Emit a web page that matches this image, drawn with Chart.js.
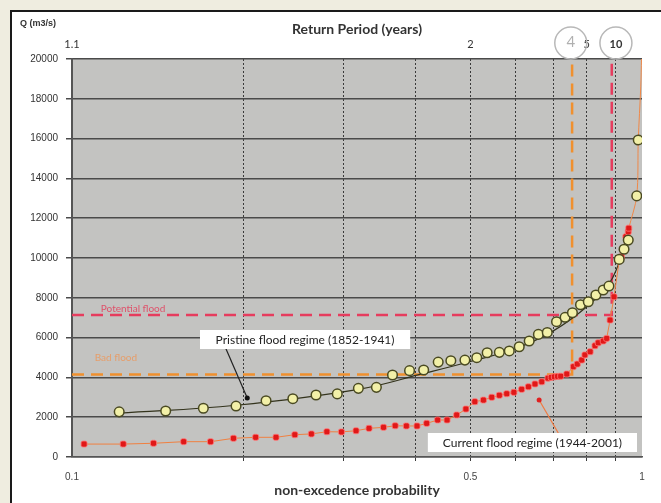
<!DOCTYPE html>
<html>
<head>
<meta charset="utf-8">
<script src="https://cdn.jsdelivr.net/npm/chart.js@4"></script>
<style>
  html, body { margin: 0; padding: 0; background: #efede0; overflow: hidden; }
  #panel { position: absolute; left: 10px; top: 10px; width: 700px; height: 600px; background: #fff;
           border-left: 2px solid #1a1a1a; border-top: 2px solid #1a1a1a; }
  #chart { position: absolute; left: 0; top: 0; }
</style>
</head>
<body>
<div id="panel"></div>
<canvas id="chart" width="661" height="503"></canvas>
<script>
// non-exceedance probability (x) and discharge Q in m3/s (y)
const pristineProb = [0.121, 0.146, 0.170, 0.194, 0.219, 0.244, 0.268, 0.292, 0.318, 0.342,
  0.365, 0.391, 0.414, 0.439, 0.462, 0.489, 0.513, 0.535, 0.562, 0.585,
  0.609, 0.634, 0.658, 0.682, 0.708, 0.733, 0.755, 0.780, 0.805, 0.830,
  0.855, 0.875, 0.912, 0.930, 0.946, 0.979, 0.985];
const pristineQ = [2270, 2310, 2450, 2560, 2830, 2930, 3115, 3170, 3450, 3500,
  4120, 4340, 4370, 4770, 4840, 4870, 4990, 5240, 5260, 5330,
  5540, 5830, 6160, 6260, 6800, 7020, 7250, 7650, 7800, 8140,
  8390, 8590, 9930, 10440, 10900, 13120, 15930];

const currentProb = [0.105, 0.123, 0.139, 0.157, 0.175, 0.192, 0.210, 0.228, 0.246, 0.263,
  0.280, 0.297, 0.315, 0.332, 0.352, 0.369, 0.386, 0.403, 0.419, 0.438,
  0.455, 0.473, 0.491, 0.509, 0.527, 0.545, 0.562, 0.579, 0.596, 0.615,
  0.632, 0.649, 0.667, 0.684, 0.693, 0.702, 0.711, 0.720, 0.738, 0.758,
  0.770, 0.784, 0.794, 0.811, 0.827, 0.838, 0.855, 0.867, 0.879, 0.893,
  0.912, 0.920, 0.937, 0.946, 0.948];
const currentQ = [650, 650, 690, 770, 770, 940, 990, 990, 1120, 1160,
  1270, 1260, 1320, 1440, 1490, 1570, 1560, 1560, 1690, 1860,
  1860, 2110, 2410, 2780, 2860, 3000, 3100, 3180, 3250, 3400,
  3530, 3670, 3780, 3960, 4000, 4030, 4050, 4060, 4170, 4540,
  4670, 4870, 5130, 5290, 5590, 5740, 5830, 5960, 6880, 8050,
  9860, 10060, 11070, 11320, 11500];

// fitted curves
const pristineFitProb = [0.121, 0.194, 0.318, 0.414, 0.5, 0.6, 0.7, 0.8, 0.875, 0.912, 0.93];
const pristineFitQ = [2200, 2600, 3400, 4200, 4800, 5450, 6350, 7550, 8700, 9750, 10300];
const tailFitProb = [0.948, 0.979, 0.985, 0.995, 0.998];
const tailFitQ = [11500, 13120, 15930, 18600, 20000];

// flood thresholds and their return-period markers
const potentialFloodQ = 7135;
const potentialFloodProb = 0.885;
const badFloodQ = 4150;
const badFloodProb = 0.754;

// axis ticks
const probTicks = [0.1, 0.2, 0.3, 0.4, 0.5, 0.6, 0.7, 0.8, 0.9, 1];
const probLabels = ['0.1', '', '', '', '0.5', '', '', '', '', '1'];
const returnProbs = [0.1, 0.5, 0.75, 0.8, 0.9];
const returnLabels = ['1.1', '2', '4', '5', '10'];

const zip = (xs, ys) => xs.map((x, i) => ({ x: x, y: ys[i] }));

const decor = {
  id: 'decor',
  beforeDraw(chart) {
    const { ctx, chartArea: a } = chart;
    ctx.save();
    ctx.fillStyle = '#c3c3c1';
    ctx.fillRect(a.left, a.top, a.right - a.left, a.bottom - a.top);
    ctx.restore();
  },
  afterDatasetsDraw(chart) {
    const { ctx } = chart;
    const sx = chart.scales.x, sy = chart.scales.y;
    const px = (v) => sx.getPixelForValue(v);
    const py = (v) => sy.getPixelForValue(v);
    ctx.save();
    ctx.font = '10px Lato, sans-serif';
    ctx.textAlign = 'center';
    ctx.textBaseline = 'middle';
    ctx.fillStyle = 'rgba(228, 60, 90, 0.85)';
    ctx.fillText('Potential flood', px(0.128), py(7440));
    ctx.fillStyle = 'rgba(236, 150, 90, 0.85)';
    ctx.fillText('Bad flood', px(0.1194), py(4975));

    // arrows
    ctx.lineWidth = 1.2;
    ctx.strokeStyle = '#222';
    ctx.beginPath();
    ctx.moveTo(px(0.186), py(5480));
    ctx.lineTo(px(0.203), py(2960));
    ctx.stroke();
    ctx.fillStyle = '#111';
    ctx.beginPath();
    ctx.arc(px(0.203), py(2960), 2.5, 0, Math.PI * 2);
    ctx.fill();

    ctx.strokeStyle = '#f07a40';
    ctx.beginPath();
    ctx.moveTo(px(0.713), py(1206));
    ctx.lineTo(px(0.660), py(2864));
    ctx.stroke();
    ctx.fillStyle = '#e02020';
    ctx.beginPath();
    ctx.arc(px(0.660), py(2864), 2.5, 0, Math.PI * 2);
    ctx.fill();

    // label boxes
    ctx.font = '12px Lato, sans-serif';
    const box = (x0, x1, yTop, yBot, text) => {
      const l = px(x0), r = px(x1), t = py(yTop), b = py(yBot);
      ctx.fillStyle = '#ffffff';
      ctx.fillRect(l, t, r - l, b - t);
      ctx.fillStyle = '#222';
      ctx.fillText(text, (l + r) / 2, (t + b) / 2 + 1);
    };
    box(0.1677, 0.392, 6382, 5427, 'Pristine flood regime (1852-1941)');
    box(0.421, 0.980, 1206, 251, 'Current flood regime (1944-2001)');
    ctx.restore();
  },
  afterDraw(chart) {
    const { ctx } = chart;
    const top = chart.scales.x2;
    ctx.save();
    ctx.lineWidth = 1.5;
    ctx.strokeStyle = '#b8b8b8';
    [0.75, 0.9].forEach((p) => {
      ctx.beginPath();
      ctx.arc(top.getPixelForValue(p), 43, 16, 0, Math.PI * 2);
      ctx.stroke();
    });
    ctx.fillStyle = '#333';
    ctx.font = 'bold 9px "Liberation Sans", Arial, sans-serif';
    ctx.textAlign = 'left';
    ctx.textBaseline = 'middle';
    ctx.fillText('Q (m3/s)', 20, 24);
    ctx.restore();
  }
};

new Chart(document.getElementById('chart'), {
  type: 'scatter',
  data: {
    datasets: [
      {
        label: 'Pristine flood regime (1852-1941)',
        data: zip(pristineProb, pristineQ),
        showLine: false,
        pointRadius: 4.8,
        pointBackgroundColor: '#f2f0a8',
        pointBorderColor: '#4a4a22',
        pointBorderWidth: 1.5,
        order: 1,
      },
      {
        label: 'Current flood regime (1944-2001)',
        data: zip(currentProb, currentQ),
        showLine: true,
        borderColor: '#f08040',
        borderWidth: 1,
        pointStyle: 'rectRounded',
        pointRadius: 3.5,
        pointBackgroundColor: '#e01818',
        pointBorderColor: 'rgba(255, 120, 120, 0.8)',
        pointBorderWidth: 1,
        order: 2,
      },
      {
        label: 'Pristine fit',
        data: zip(pristineFitProb, pristineFitQ),
        showLine: true,
        borderColor: '#33331c',
        borderWidth: 1.2,
        tension: 0.4,
        pointRadius: 0,
        order: 3,
      },
      {
        label: 'Tail fit',
        data: zip(tailFitProb, tailFitQ),
        showLine: true,
        borderColor: '#f08848',
        borderWidth: 1,
        tension: 0.3,
        pointRadius: 0,
        order: 3,
      },
      {
        label: 'Potential flood',
        data: [{ x: 0.1, y: potentialFloodQ }, { x: potentialFloodProb, y: potentialFloodQ }, { x: potentialFloodProb, y: 20000 }],
        showLine: true,
        borderColor: '#e63c5e',
        borderWidth: 2.5,
        borderDash: [12, 7],
        pointRadius: 0,
        order: 4,
      },
      {
        label: 'Bad flood',
        data: [{ x: 0.1, y: badFloodQ }, { x: badFloodProb, y: badFloodQ }, { x: badFloodProb, y: 20000 }],
        showLine: true,
        borderColor: '#f0902e',
        borderWidth: 2.5,
        borderDash: [12, 7],
        pointRadius: 0,
        order: 4,
      },
    ],
  },
  options: {
    responsive: false,
    animation: false,
    layout: { padding: { left: 0, right: 19, top: 0, bottom: 0 } },
    plugins: {
      legend: { display: false },
      tooltip: { enabled: false },
    },
    scales: {
      x: {
        type: 'logarithmic',
        position: 'bottom',
        min: 0.1,
        max: 1,
        afterBuildTicks: (s) => { s.ticks = probTicks.map((v) => ({ value: v })); },
        afterFit: (s) => { s.height = 46; },
        ticks: {
          autoSkip: false,
          maxRotation: 0,
          padding: 10,
          color: '#444',
          font: { size: 10, family: '"Liberation Sans", Arial, sans-serif' },
          callback: (v, i) => probLabels[i],
        },
        grid: {
          color: (c) => (c.tick && (c.tick.value === 1 || c.tick.value === 0.1) ? 'rgba(0,0,0,0)' : '#3a3a3a'),
          lineWidth: 1,
          tickLength: 4,
        },
        border: { display: true, color: '#555', width: 1.5, dash: [2, 2] },
        title: {
          display: true,
          text: 'non-excedence probability',
          color: '#333',
          font: { size: 14, weight: 'bold', family: 'Lato, sans-serif' },
          padding: { top: 0, bottom: 4 },
        },
      },
      x2: {
        type: 'logarithmic',
        position: 'top',
        min: 0.1,
        max: 1,
        afterBuildTicks: (s) => { s.ticks = returnProbs.map((v) => ({ value: v })); },
        afterFit: (s) => { s.height = 59; },
        ticks: {
          autoSkip: false,
          maxRotation: 0,
          padding: 0,
          color: (c) => (c.index === 2 ? '#b0b0b0' : '#333'),
          font: (c) => (c.index === 2
            ? { size: 15, family: 'Lato, sans-serif' }
            : { size: 11, family: 'Lato, sans-serif', weight: c.index === 4 ? 'bold' : 'normal' }),
          callback: (v, i) => returnLabels[i],
        },
        grid: { display: false },
        border: { display: false },
        title: {
          display: true,
          text: 'Return Period (years)',
          color: '#333',
          font: { size: 14, weight: 'bold', family: 'Lato, sans-serif' },
          padding: { top: 21, bottom: 0 },
        },
      },
      y: {
        min: 0,
        max: 20000,
        afterFit: (s) => { s.width = 72; },
        ticks: {
          stepSize: 2000,
          padding: 8,
          color: '#333',
          font: { size: 10, family: '"Liberation Sans", Arial, sans-serif' },
          callback: (v) => String(v),
        },
        grid: { color: '#4a4a4a', lineWidth: 1.5, tickLength: 6 },
        border: { display: true, color: '#555', width: 2 },
      },
    },
  },
  plugins: [decor],
});
</script>
</body>
</html>
